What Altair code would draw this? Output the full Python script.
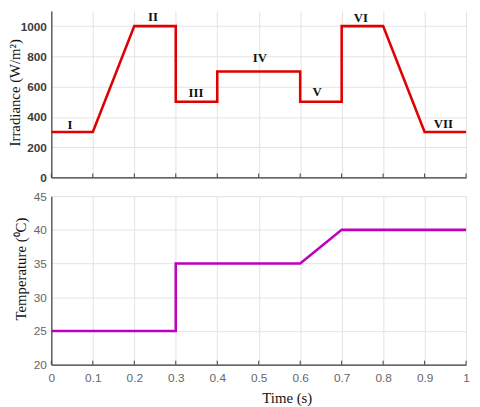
import altair as alt
import pandas as pd

# Irradiance profile
irr_t = [0.0, 0.1, 0.2, 0.3, 0.3, 0.4, 0.4, 0.6, 0.6, 0.7, 0.7, 0.8, 0.9, 1.0]
irr_v = [300, 300, 1000, 1000, 500, 500, 700, 700, 500, 500, 1000, 1000, 300, 300]

# Temperature profile
tmp_t = [0.0, 0.3, 0.3, 0.6, 0.7, 1.0]
tmp_v = [25, 25, 35, 35, 40, 40]

# Stage labels
stage_labels = ["I", "II", "III", "IV", "V", "VI", "VII"]
stage_x = [0.045, 0.245, 0.349, 0.503, 0.641, 0.746, 0.945]
stage_y = [346, 1057, 560, 790, 567, 1051, 350]

x_ticks = [0, 0.1, 0.2, 0.3, 0.4, 0.5, 0.6, 0.7, 0.8, 0.9, 1.0]
irr_ticks = [0, 200, 400, 600, 800, 1000]
tmp_ticks = [20, 25, 30, 35, 40, 45]

W = 421
H1 = 169
H2 = 171

irr_df = pd.DataFrame({"t": irr_t, "v": irr_v, "i": list(range(len(irr_t)))})
tmp_df = pd.DataFrame({"t": tmp_t, "v": tmp_v, "i": list(range(len(tmp_t)))})
lab_df = pd.DataFrame({"t": stage_x, "v": stage_y, "lab": stage_labels})
tick_df = pd.DataFrame({"t": x_ticks})

xscale = alt.Scale(domain=[0, 1], nice=False, zero=False)
irr_scale = alt.Scale(domain=[0, 1100], nice=False)

grid_color = "#e3e3e3"
axis_color = "#3a3a3a"

x_top = alt.X("t:Q", scale=xscale, axis=alt.Axis(
    values=x_ticks, labels=False, ticks=False, title=None, grid=True,
    gridColor=grid_color, domainColor=axis_color, domainWidth=1.2))

irr_y = alt.Y("v:Q", scale=irr_scale, axis=alt.Axis(
    values=irr_ticks, format="d", grid=True, gridColor=grid_color, ticks=False,
    domainColor=axis_color, domainWidth=1.2, labelOverlap=False,
    labelFont="Liberation Sans", labelFontSize=12, labelFontWeight="bold",
    labelColor="#3c3c3c", labelPadding=5,
    title="Irradiance (W/m²)", titleFont="Liberation Serif", titleFontSize=15,
    titleFontWeight="normal", titleColor="#111111", titleAngle=270,
    titleAlign="center", titleBaseline="middle", titleX=-37, titleY=H1 / 2 - 2))

irr_line = alt.Chart(irr_df).mark_line(color="#e00000", strokeWidth=2.6).encode(
    x=x_top, y=irr_y, order="i:Q")

irr_text = alt.Chart(lab_df).mark_text(
    font="Liberation Serif", fontSize=13, fontWeight="bold", color="#111111",
    baseline="middle", align="center").encode(
    x=x_top, y=irr_y, text="lab:N")

irr_ticks_mark = alt.Chart(tick_df).mark_rule(color=axis_color, strokeWidth=1).encode(
    x=x_top, y=alt.value(H1), y2=alt.value(H1 - 4))

top = alt.layer(irr_line, irr_text, irr_ticks_mark).properties(width=W, height=H1)

x_bot = alt.X("t:Q", scale=xscale, axis=alt.Axis(
    values=x_ticks, grid=True, gridColor=grid_color, ticks=False,
    domainColor=axis_color, domainWidth=1.2, labelOverlap=False,
    labelFont="Liberation Sans", labelFontSize=12, labelColor="#666666",
    labelPadding=8, labelExpr="datum.value == 0 ? '0' : datum.value == 1 ? '1' : format(datum.value, '.1f')",
    labelFlush=False,
    title="Time (s)", titleFont="Liberation Serif", titleFontSize=15,
    titleFontWeight="normal", titleColor="#111111",
    titleAlign="center", titleBaseline="middle", titleX=239, titleY=33))

tmp_y = alt.Y("v:Q", scale=alt.Scale(domain=[20, 45], nice=False, zero=False), axis=alt.Axis(
    values=tmp_ticks, format="d", grid=True, gridColor=grid_color, ticks=False,
    domainColor=axis_color, domainWidth=1.2, labelOverlap=False,
    labelFont="Liberation Sans", labelFontSize=12, labelColor="#666666",
    labelPadding=5,
    title="Temperature (⁰C)", titleFont="Liberation Serif", titleFontSize=15,
    titleFontWeight="normal", titleColor="#111111", titleAngle=270,
    titleAlign="center", titleBaseline="middle", titleX=-31, titleY=H2 / 2 - 12))

tmp_line = alt.Chart(tmp_df).mark_line(color="#bf00bf", strokeWidth=2.6).encode(
    x=x_bot, y=tmp_y, order="i:Q")

tmp_ticks_mark = alt.Chart(tick_df).mark_rule(color=axis_color, strokeWidth=1).encode(
    x=x_bot, y=alt.value(H2), y2=alt.value(H2 - 4))

bottom = alt.layer(tmp_line, tmp_ticks_mark).properties(width=W, height=H2)

chart = alt.vconcat(top, bottom, spacing=7).properties(
    padding=0,
    background="white",
).configure_view(stroke=None).resolve_scale(x="independent")

chart.save("out.html", embed_options={"renderer": "svg", "actions": False})
